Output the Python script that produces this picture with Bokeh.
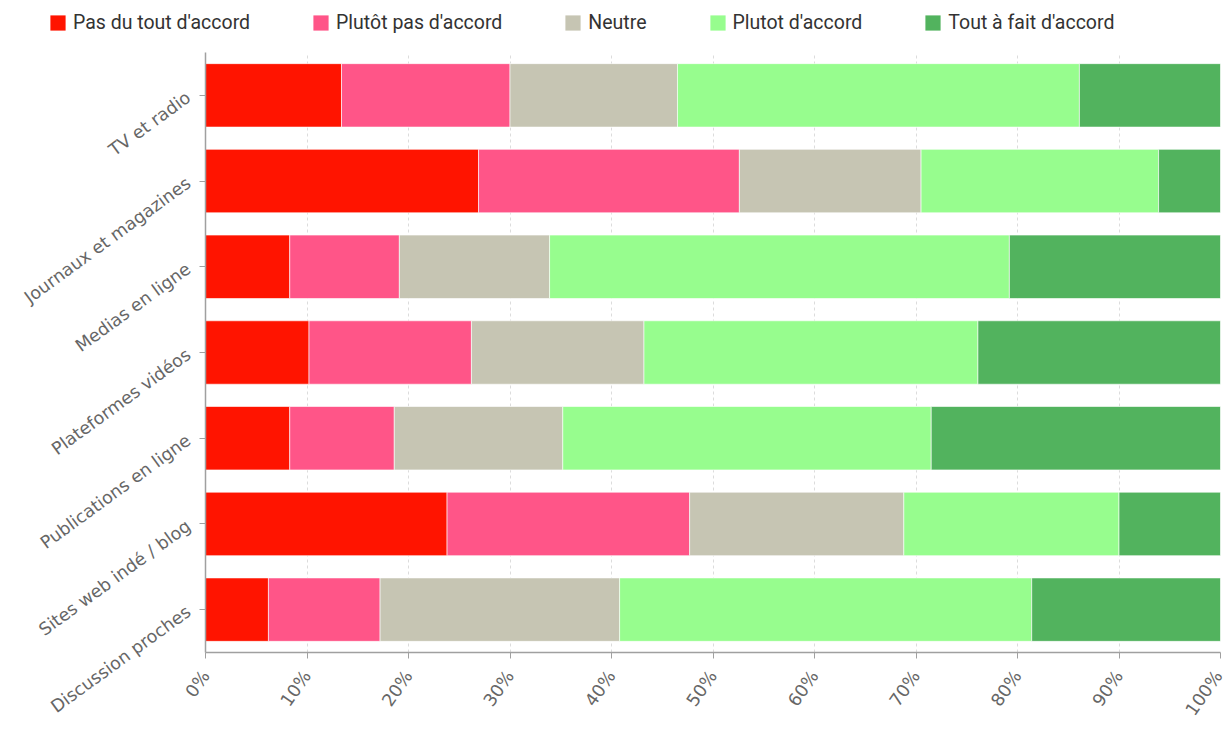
from bokeh.plotting import figure
from bokeh.models import (ColumnDataSource, FactorRange, Range1d, FixedTicker,
                          PrintfTickFormatter, Legend, LegendItem)
from bokeh.embed import file_html
from bokeh.resources import INLINE

categories = ["TV et radio", "Journaux et magazines", "Medias en ligne",
              "Plateformes vidéos", "Publications en ligne",
              "Sites web indé / blog", "Discussion proches"]

series_names = ["Pas du tout d'accord", "Plutôt pas d'accord", "Neutre",
                "Plutot d'accord", "Tout à fait d'accord"]

pas_du_tout = [13.4, 26.9, 8.3, 10.2, 8.3, 23.8, 6.2]
plutot_pas = [16.6, 25.7, 10.8, 16.0, 10.3, 23.9, 11.0]
neutre = [16.5, 17.9, 14.8, 17.0, 16.6, 21.1, 23.6]
plutot = [39.6, 23.4, 45.3, 32.9, 36.3, 21.2, 40.6]
tout_a_fait = [13.9, 6.1, 20.8, 23.9, 28.5, 10.0, 18.6]

x_ticks = [0, 10, 20, 30, 40, 50, 60, 70, 80, 90, 100]

colors = ["#ff1400", "#ff5588", "#c6c5b3", "#97fd8e", "#52b35e"]
keys = ["s0", "s1", "s2", "s3", "s4"]

source = ColumnDataSource(dict(cat=categories, s0=pas_du_tout, s1=plutot_pas,
                               s2=neutre, s3=plutot, s4=tout_a_fait))

# ---- legend strip (separate root, so it is not aligned to the chart frame) ----
# its x range lies outside the data, so the bars only serve as legend swatches
lg = figure(width=1226, height=52, output_backend="svg", toolbar_location=None,
            x_range=Range1d(-2, -1), y_range=FactorRange(factors=categories[::-1]),
            min_border_left=0, min_border_right=0, min_border_top=0,
            min_border_bottom=0)
lg.axis.visible = False
lg.grid.visible = False
lg.outline_line_color = None
swatches = lg.hbar_stack(keys, y="cat", height=0.5, color=colors,
                         line_color=None, source=source)
legend = Legend(items=[LegendItem(label=n, renderers=[r]) for n, r in zip(series_names, swatches)],
                orientation="horizontal", location=(48, 18),
                glyph_width=19, glyph_height=19, label_standoff=6, spacing=61,
                padding=0, margin=0, border_line_color=None,
                background_fill_alpha=0, label_text_font="Roboto",
                label_text_font_size="19.5px", label_text_color="#333333",
                label_height=19)
lg.add_layout(legend, "center")

# ---- main chart ----
p = figure(width=1226, height=679, output_backend="svg", toolbar_location=None,
           y_range=FactorRange(factors=categories[::-1]),
           x_range=Range1d(0, 100),
           min_border_left=205, min_border_right=6,
           min_border_top=0, min_border_bottom=79)
p.outline_line_color = None

p.hbar_stack(keys, y="cat", height=0.74, color=colors,
             line_color="white", line_width=0.6, source=source)

p.xaxis.ticker = FixedTicker(ticks=x_ticks)
p.xaxis.formatter = PrintfTickFormatter(format="%d%%")
p.xaxis.major_label_orientation = 0.96
p.yaxis.major_label_orientation = 0.63

for ax in (p.xaxis, p.yaxis):
    ax.axis_line_color = "#a0a0a0"
    ax.axis_line_width = 1.5
    ax.major_tick_line_color = "#a0a0a0"
    ax.major_tick_out = 6
    ax.major_tick_in = 0
    ax.minor_tick_line_color = None
    ax.major_label_text_font = "DejaVu Sans"
    ax.major_label_text_font_size = "17.5px"
    ax.major_label_text_color = "#666666"
p.yaxis.major_label_standoff = 11
p.xaxis.major_label_standoff = 14

p.ygrid.grid_line_color = None
p.xgrid.grid_line_color = "#dcdcdc"
p.xgrid.grid_line_dash = "3 3"
p.xgrid.ticker = FixedTicker(ticks=x_ticks)

open("out.html", "w").write(file_html([lg, p], INLINE))
